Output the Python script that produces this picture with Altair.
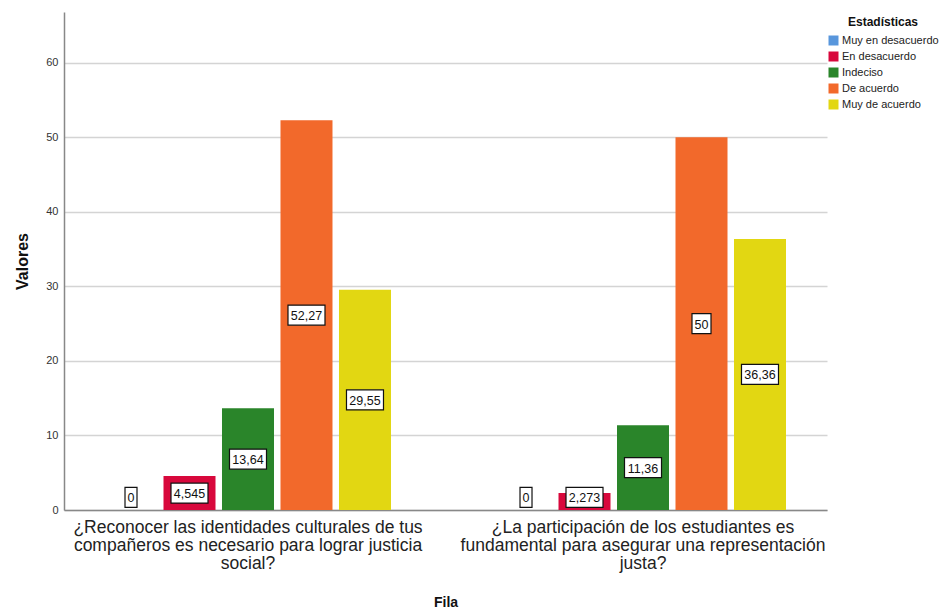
import altair as alt
import pandas as pd

questions = [
    "¿Reconocer las identidades culturales de tus|compañeros es necesario para lograr justicia|social?",
    "¿La participación de los estudiantes es|fundamental para asegurar una representación|justa?",
]
categories = ["Muy en desacuerdo", "En desacuerdo", "Indeciso", "De acuerdo", "Muy de acuerdo"]
values_q1 = [0, 4.545, 13.64, 52.27, 29.55]
values_q2 = [0, 2.273, 11.36, 50, 36.36]
labels_q1 = ["0", "4,545", "13,64", "52,27", "29,55"]
labels_q2 = ["0", "2,273", "11,36", "50", "36,36"]
colors = ["#5896DC", "#D8083C", "#2A852A", "#F2692B", "#E2D712"]

rows = []
for q, vals, labs in [(questions[0], values_q1, labels_q1), (questions[1], values_q2, labels_q2)]:
    for c, v, l in zip(categories, vals, labs):
        rows.append({"Fila": q, "Estadísticas": c, "Valores": v, "label": l})
df = pd.DataFrame(rows)

FONT = "Liberation Sans"

x = alt.X("Fila:N", sort=questions, title="Fila",
          scale=alt.Scale(paddingInner=0.26, paddingOuter=0.0958),
          axis=alt.Axis(labelExpr="split(datum.label, '|')", labelAngle=0,
                        labelFont=FONT, labelFontSize=17.5, labelLineHeight=18,
                        labelColor="#222", labelPadding=8, labelLimit=420,
                        ticks=False, domainColor="#888", domainWidth=1.5,
                        titleFont=FONT, titleFontSize=14, titleFontWeight="bold",
                        titlePadding=24, titleColor="#111"))
xo = alt.XOffset("Estadísticas:N", sort=categories,
                 scale=alt.Scale(paddingInner=0.111, paddingOuter=0.054))
y = alt.Y("Valores:Q", title="Valores",
          scale=alt.Scale(domain=[0, 66.8], nice=False),
          axis=alt.Axis(values=[0, 10, 20, 30, 40, 50, 60], ticks=False,
                        labelFont=FONT, labelFontSize=11, labelColor="#333",
                        labelPadding=6, domainColor="#888", domainWidth=1.5,
                        gridColor="#d4d4d4", gridWidth=1.5,
                        titleFont=FONT, titleFontSize=16, titleFontWeight="bold",
                        titlePadding=15, titleColor="#111"))

bars = alt.Chart(df).mark_bar(stroke=None).encode(
    x=x, xOffset=xo, y=y,
    color=alt.Color("Estadísticas:N", sort=categories,
                    scale=alt.Scale(domain=categories, range=colors),
                    legend=alt.Legend(orient="none", legendX=764, legendY=5,
                                      title="Estadísticas", titleFont=FONT,
                                      titleFontSize=12, titleFontWeight="bold",
                                      titleAnchor="middle", titleColor="#111",
                                      labelFont=FONT, labelFontSize=11, labelColor="#222",
                                      symbolType="square", symbolSize=100,
                                      symbolStrokeWidth=0, rowPadding=4,
                                      labelOffset=3, titlePadding=6)),
)

base = alt.Chart(df).transform_calculate(
    ypos="max(datum.Valores / 2, 1.7)", n="length(datum.label)"
)

box_layers = []
for n, w in [(1, 12), (2, 19), (5, 37)]:
    box_layers.append(
        base.transform_filter(f"datum.n == {n}").mark_rect(
            width=w, height=20, fill="white", stroke="#111", strokeWidth=1.2
        ).encode(x=alt.X("Fila:N", sort=questions), xOffset=alt.XOffset("Estadísticas:N", sort=categories),
                 y=alt.Y("ypos:Q"))
    )

texts = base.mark_text(font=FONT, fontSize=12.5, color="#111", baseline="middle", dy=1).encode(
    x=alt.X("Fila:N", sort=questions), xOffset=alt.XOffset("Estadísticas:N", sort=categories),
    y=alt.Y("ypos:Q"), text="label:N"
)

chart = alt.layer(bars, *box_layers, texts).properties(
    width=763, height=498,
    autosize=alt.AutoSizeParams(type="none"),
    padding={"left": 56, "top": 4, "right": 115, "bottom": 103},
).configure_view(stroke=None)

chart.save("out.html", embed_options={"renderer": "svg", "actions": False})
